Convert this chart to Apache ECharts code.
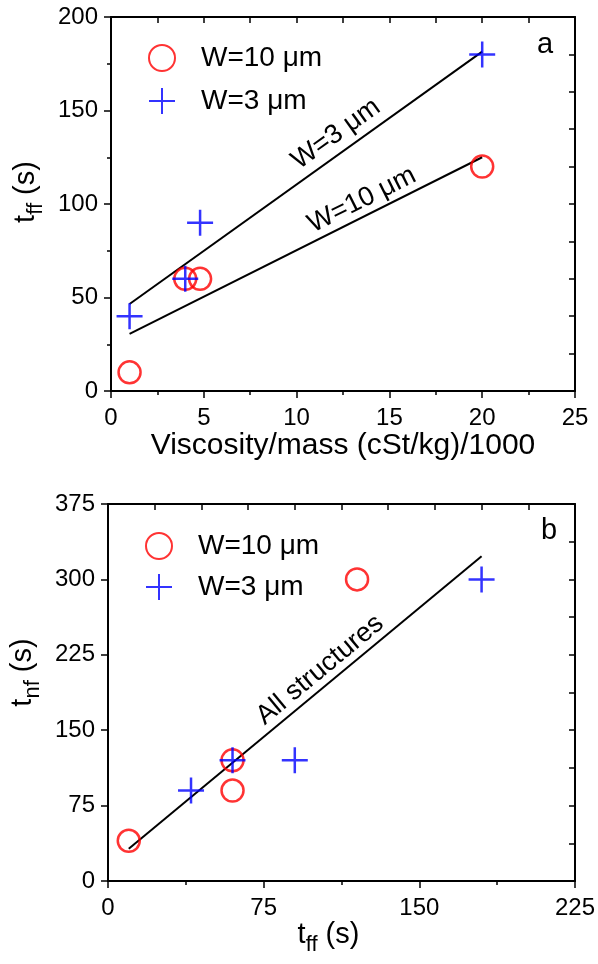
<!DOCTYPE html>
<html>
<head>
<meta charset="utf-8">
<script src="https://cdn.jsdelivr.net/npm/echarts@6/dist/echarts.min.js"></script>
<style>
  html, body { margin: 0; padding: 0; background: #fff; }
  #main { width: 598px; height: 964px; }
</style>
</head>
<body>
<div id="main"></div>
<script>
// panel a: t_ff vs viscosity/mass
var viscW10 = [1, 4, 4.8, 20];
var tffW10 = [10, 60, 60, 120];
var viscW3 = [1, 4, 4.8, 20];
var tffW3 = [40, 60, 90, 180];
var fitW3X = [1, 20];
var fitW3Y = [46.5, 181.5];
var fitW10X = [1, 20];
var fitW10Y = [30.5, 125];

// panel b: t_nf vs t_ff
var tnfW10 = [40, 120, 90, 300];
var tnfW3 = [90, 120, 120, 300];
var fitAllX = [10, 180];
var fitAllY = [32, 323];

var FONT = "'Liberation Sans', Arial, sans-serif";
var RED = '#ff0000';
var BLUE = '#0000ff';
var CROSS = 'path://M0,-10L0,10M-10,0L10,0';

function pairs(xs, ys) {
    return xs.map(function (x, i) { return [x, ys[i]]; });
}

function mainAxis(grid, pos, min, max, interval, minor, extra) {
    var ax = {
        type: 'value', gridIndex: grid, position: pos,
        min: min, max: max, interval: interval,
        splitLine: { show: false },
        axisLine: { show: true, onZero: false, lineStyle: { color: '#000', width: 2 } },
        axisTick: { show: true, inside: false, length: 7, lineStyle: { color: '#000', width: 1.5 } },
        minorTick: { show: minor, splitNumber: 2, length: 4, lineStyle: { color: '#000', width: 1.5 } },
        axisLabel: { color: '#000', fontFamily: FONT, fontSize: 24, margin: pos === 'left' ? 13 : 15 },
        nameLocation: 'middle'
    };
    return Object.assign(ax, extra);
}

function mirrorAxis(grid, pos, min, max, interval) {
    return {
        type: 'value', gridIndex: grid, position: pos,
        min: min, max: max, interval: interval,
        splitLine: { show: false },
        axisLine: { show: true, onZero: false, lineStyle: { color: '#000', width: 2 } },
        axisTick: { show: true, inside: true, length: 6, lineStyle: { color: '#000', width: 1.5 } },
        axisLabel: { show: false }
    };
}

var nameRich = {
    m: { fontFamily: FONT, fontSize: 29, color: '#000' },
    s: { fontFamily: FONT, fontSize: 22, color: '#000', padding: [20, 0, 0, 0] }
};

var myChart = echarts.init(document.getElementById('main'));

var option = {
    animation: false,
    backgroundColor: '#fff',
    grid: [
        { left: 111, top: 17, width: 464, height: 374 },
        { left: 108, top: 504, width: 467, height: 377 }
    ],
    xAxis: [
        mainAxis(0, 'bottom', 0, 25, 5, true, {
            name: 'Viscosity/mass (cSt/kg)/1000', nameGap: 38,
            nameTextStyle: { fontFamily: FONT, fontSize: 30, color: '#000' }
        }),
        mirrorAxis(0, 'top', 0, 25, 2.5),
        mainAxis(1, 'bottom', 0, 225, 75, true, {
            name: '{m|t}{s|ff}{m| (s)}', nameGap: 30,
            nameTextStyle: { rich: nameRich, padding: [0, 26, 0, 0] }
        }),
        mirrorAxis(1, 'top', 0, 225, 22.5)
    ],
    yAxis: [
        mainAxis(0, 'left', 0, 200, 50, true, {
            name: '{m|t}{s|ff}{m| (s)}', nameGap: 62, nameRotate: 90,
            nameTextStyle: { rich: nameRich, padding: [0, 0, 0, 24] }
        }),
        mirrorAxis(0, 'right', 0, 200, 20),
        mainAxis(1, 'left', 0, 375, 75, false, {
            name: '{m|t}{s|nf}{m| (s)}', nameGap: 62, nameRotate: 90,
            nameTextStyle: { rich: nameRich, padding: [0, 0, 0, 40] }
        }),
        mirrorAxis(1, 'right', 0, 375, 37.5)
    ],
    legend: [
        {
            data: ['W=10 μm', 'W=3 μm'], orient: 'vertical', left: 143, top: 39,
            itemWidth: 26, itemHeight: 26, itemGap: 15,
            textStyle: { fontFamily: FONT, fontSize: 28, color: '#000', lineHeight: 28, padding: [0, 0, 0, 21] },
            selectedMode: false
        },
        {
            data: ['W=10 μm', 'W=3 μm'], orient: 'vertical', left: 140, top: 527,
            itemWidth: 26, itemHeight: 26, itemGap: 13,
            textStyle: { fontFamily: FONT, fontSize: 28, color: '#000', lineHeight: 28, padding: [0, 0, 0, 21] },
            selectedMode: false
        }
    ],
    series: [
        {
            name: 'fit W=3', type: 'line', xAxisIndex: 0, yAxisIndex: 0,
            data: pairs(fitW3X, fitW3Y), showSymbol: false,
            lineStyle: { color: '#000', width: 2 }, z: 1
        },
        {
            name: 'fit W=10', type: 'line', xAxisIndex: 0, yAxisIndex: 0,
            data: pairs(fitW10X, fitW10Y), showSymbol: false,
            lineStyle: { color: '#000', width: 2 }, z: 1
        },
        {
            name: 'W=10 μm', type: 'scatter', xAxisIndex: 0, yAxisIndex: 0,
            data: pairs(viscW10, tffW10), symbol: 'circle', symbolSize: 22,
            itemStyle: { color: 'transparent', borderColor: RED, borderWidth: 2.5 }, z: 2
        },
        {
            name: 'W=3 μm', type: 'scatter', xAxisIndex: 0, yAxisIndex: 0,
            data: pairs(viscW3, tffW3), symbol: CROSS, symbolSize: 26,
            itemStyle: { color: 'transparent', borderColor: BLUE, borderWidth: 2.5 }, z: 3
        },
        {
            name: 'fit all', type: 'line', xAxisIndex: 2, yAxisIndex: 2,
            data: pairs(fitAllX, fitAllY), showSymbol: false,
            lineStyle: { color: '#000', width: 2 }, z: 1
        },
        {
            name: 'W=10 μm', type: 'scatter', xAxisIndex: 2, yAxisIndex: 2,
            data: pairs(tffW10, tnfW10), symbol: 'circle', symbolSize: 22,
            itemStyle: { color: 'transparent', borderColor: RED, borderWidth: 2.5 }, z: 2
        },
        {
            name: 'W=3 μm', type: 'scatter', xAxisIndex: 2, yAxisIndex: 2,
            data: pairs(tffW3, tnfW3), symbol: CROSS, symbolSize: 26,
            itemStyle: { color: 'transparent', borderColor: BLUE, borderWidth: 2.5 }, z: 3
        }
    ],
    graphic: [
        { type: 'text', x: 336, y: 134, rotation: 35.7 * Math.PI / 180,
          style: { text: 'W=3 μm', font: '27px ' + FONT, fill: '#000', align: 'center', verticalAlign: 'middle' } },
        { type: 'text', x: 362, y: 200, rotation: 26.6 * Math.PI / 180,
          style: { text: 'W=10 μm', font: '27px ' + FONT, fill: '#000', align: 'center', verticalAlign: 'middle' } },
        { type: 'text', x: 320, y: 670, rotation: 39.6 * Math.PI / 180,
          style: { text: 'All structures', font: '27px ' + FONT, fill: '#000', align: 'center', verticalAlign: 'middle' } },
        { type: 'text', x: 545, y: 45,
          style: { text: 'a', font: '29px ' + FONT, fill: '#000', align: 'center', verticalAlign: 'middle' } },
        { type: 'text', x: 549, y: 531,
          style: { text: 'b', font: '29px ' + FONT, fill: '#000', align: 'center', verticalAlign: 'middle' } }
    ]
};
myChart.setOption(option);
</script>
</body>
</html>
